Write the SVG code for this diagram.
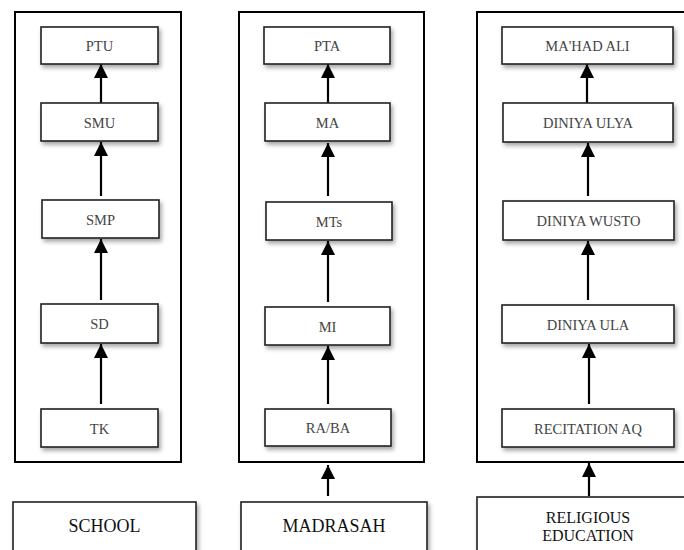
<svg xmlns="http://www.w3.org/2000/svg" width="684" height="550" viewBox="0 0 684 550">
<style>
.outer{fill:#fff;stroke:#000;stroke-width:2}
.box{fill:#fff;stroke:#222;stroke-width:1.6;filter:url(#sh)}
.lbl{font-family:"Liberation Serif","Times New Roman",serif;font-size:14.5px;fill:#444;text-anchor:middle}
.big{font-family:"Liberation Serif","Times New Roman",serif;font-size:18px;fill:#111;text-anchor:middle}
.big2{font-family:"Liberation Serif","Times New Roman",serif;font-size:16px;fill:#111;text-anchor:middle}
.con{stroke:#000;stroke-width:2.2;fill:none;marker-end:url(#ah)}
</style>
<defs>
<filter id="sh" x="-10%" y="-20%" width="130%" height="160%">
<feDropShadow dx="2" dy="3" stdDeviation="2" flood-color="#000" flood-opacity="0.35"/>
</filter>
<marker id="ah" markerUnits="userSpaceOnUse" markerWidth="15" markerHeight="15" refX="14" refY="7" orient="auto">
<path d="M0,0 L14,7 L0,14 z" fill="#000"/>
</marker>
</defs>
<rect width="684" height="550" fill="#fff"/>
<g id="outer-school"><rect class="outer" x="15" y="12" width="166" height="450"/></g>
<g id="outer-madrasah"><rect class="outer" x="239" y="12" width="185" height="450"/></g>
<g id="outer-religious"><rect class="outer" x="477" y="12" width="230" height="450"/></g>

<g id="connectors">
<line class="con" x1="101" y1="103" x2="101" y2="64"/>
<line class="con" x1="101" y1="196" x2="101" y2="142"/>
<line class="con" x1="101" y1="300" x2="101" y2="239"/>
<line class="con" x1="101" y1="404" x2="101" y2="344"/>
<line class="con" x1="328" y1="103" x2="328" y2="64"/>
<line class="con" x1="328" y1="196" x2="328" y2="143"/>
<line class="con" x1="328" y1="302" x2="328" y2="241"/>
<line class="con" x1="328" y1="404" x2="328" y2="346"/>
<line class="con" x1="587" y1="103" x2="587" y2="64"/>
<line class="con" x1="588" y1="196" x2="588" y2="143"/>
<line class="con" x1="588" y1="300" x2="588" y2="241"/>
<line class="con" x1="589" y1="404" x2="589" y2="344"/>
<line class="con" x1="328" y1="496" x2="328" y2="465"/>
<line class="con" x1="589" y1="496" x2="589" y2="463"/>
</g>

<g id="PTU"><rect class="box" x="41" y="27" width="117" height="37"/><text class="lbl" x="99.5" y="50.5">PTU</text></g>
<g id="SMU"><rect class="box" x="41" y="103" width="117" height="38"/><text class="lbl" x="99.5" y="127.5">SMU</text></g>
<g id="SMP"><rect class="box" x="42" y="200" width="117" height="38"/><text class="lbl" x="100.5" y="224.5">SMP</text></g>
<g id="SD"><rect class="box" x="41" y="304" width="117" height="39"/><text class="lbl" x="99.5" y="328.5">SD</text></g>
<g id="TK"><rect class="box" x="41" y="409" width="117" height="38"/><text class="lbl" x="99.5" y="433.5">TK</text></g>

<g id="PTA"><rect class="box" x="264" y="27" width="126" height="37"/><text class="lbl" x="327" y="50.5">PTA</text></g>
<g id="MA"><rect class="box" x="265" y="103" width="125" height="38"/><text class="lbl" x="327.5" y="127.5">MA</text></g>
<g id="MTs"><rect class="box" x="266" y="202" width="126" height="38"/><text class="lbl" x="329" y="226.5">MTs</text></g>
<g id="MI"><rect class="box" x="265" y="307" width="125" height="38"/><text class="lbl" x="327.5" y="331.5">MI</text></g>
<g id="RABA"><rect class="box" x="265" y="409" width="126" height="37"/><text class="lbl" x="328" y="432.5">RA/BA</text></g>

<g id="MAHAD"><rect class="box" x="502" y="27" width="171" height="37"/><text class="lbl" x="587.5" y="50.5">MA'HAD ALI</text></g>
<g id="ULYA"><rect class="box" x="503" y="103" width="170" height="39"/><text class="lbl" x="588" y="127.5">DINIYA ULYA</text></g>
<g id="WUSTO"><rect class="box" x="503" y="201" width="171" height="39"/><text class="lbl" x="588.5" y="225.5">DINIYA WUSTO</text></g>
<g id="ULA"><rect class="box" x="502" y="305" width="172" height="38"/><text class="lbl" x="588" y="329.5">DINIYA ULA</text></g>
<g id="RECITATION"><rect class="box" x="502" y="409" width="172" height="38"/><text class="lbl" x="588" y="433.5">RECITATION AQ</text></g>

<g id="SCHOOL"><rect class="box" x="13" y="502" width="183" height="60"/><text class="big" x="104.5" y="532">SCHOOL</text></g>
<g id="MADRASAH"><rect class="box" x="241" y="502" width="186" height="60"/><text class="big" x="334" y="532">MADRASAH</text></g>
<g id="RELIGIOUS"><rect class="box" x="477" y="497" width="230" height="65"/><text class="big2" x="588" y="523">RELIGIOUS</text><text class="big2" x="588" y="541">EDUCATION</text></g>
</svg>
